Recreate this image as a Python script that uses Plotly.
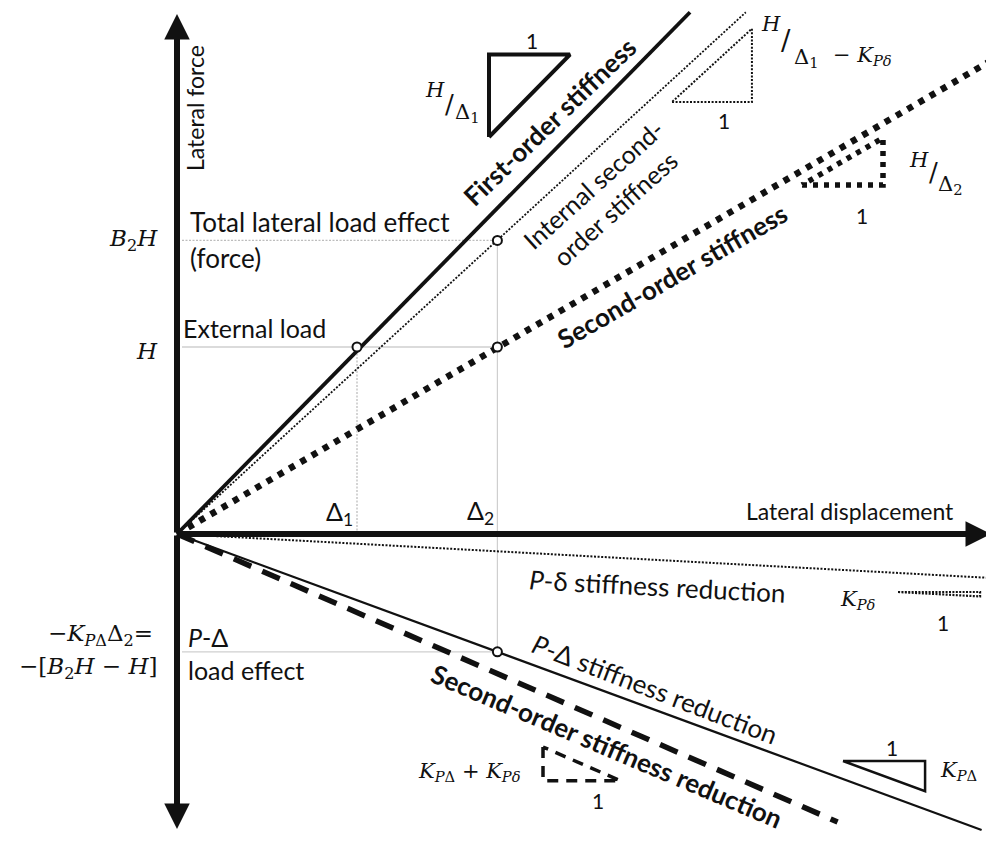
import plotly.graph_objects as go

# ---------------- data (units: Δ1 = 1, H = 1) ----------------
delta1 = 1.0
delta2 = 1.78
H = 1.0
B2H = 1.57
pdelta_load = -0.63          # -K_PΔ·Δ2

first_order_x = [0, 2.85]
first_order_y = [0, 2.79]
internal_x = [0, 3.16]
internal_y = [0, 2.79]
second_x = [0, 4.52]
second_y = [0, 2.53]
p_small_x = [0, 4.52]
p_small_y = [0, -0.235]
p_big_x = [0, 4.47]
p_big_y = [0, -1.583]
second_red_x = [0, 3.67]
second_red_y = [0, -1.54]

point_x = [delta1, delta2, delta2, delta2]
point_y = [H, B2H, H, pdelta_load]

# ---------------- helpers ----------------
X0, SX = 177.0, 180.0
Y0, SY = 534.0, 187.0
PAGE_MARGIN = 8  # default body margin of the page


def px(p):
    return (p - X0) / SX


def py(p):
    return (Y0 - p) / SY


def slope(xs, ys):
    return ys[1] / xs[1]


SANS = "Lato, 'Open Sans', sans-serif"
SERIF = "'DejaVu Serif', 'Liberation Serif', serif"
BLACK = "#111111"
GRAY = "#bdbdbd"

fig = go.Figure()


def line(xs, ys, width, dash="solid", color=BLACK):
    fig.add_trace(go.Scatter(x=xs, y=ys, mode="lines",
                             line=dict(color=color, width=width, dash=dash),
                             hoverinfo="skip", showlegend=False))


# guides
line([px(182), delta2], [B2H, B2H], 1.3, "2px,1.5px", GRAY)
line([px(182), delta2], [H, H], 1.3, "solid", "#cfcfcf")
line([delta1, delta1], [0, H], 1.3, "2px,1.5px", GRAY)
line([delta2, delta2], [pdelta_load, B2H], 1.2, "solid", "#cfcfcf")
line([px(182), delta2], [pdelta_load, pdelta_load], 1.2, "solid", "#cfcfcf")

# main lines
line(first_order_x, first_order_y, 3.8)
line(internal_x, internal_y, 1.8, "2px,1.6px")
line(second_x, second_y, 6.5, "6px,7px")
line(p_small_x, p_small_y, 2.0, "2px,1.6px")
line(p_big_x, p_big_y, 2.2)
line(second_red_x, second_red_y, 5.5, "19px,12px")

# slope triangles


def triangle(x0, y0, run, k, kind, width, dash="solid"):
    rise = run * abs(k)
    if kind == "up_left":
        xs = [x0, x0, x0 + run, x0]
        ys = [y0, y0 + rise, y0 + rise, y0]
    elif kind == "up_right":
        xs = [x0, x0 + run, x0 + run, x0]
        ys = [y0, y0, y0 + rise, y0]
    elif kind == "down_left":
        xs = [x0, x0, x0 + run, x0]
        ys = [y0, y0 - rise, y0 - rise, y0]
    else:  # down_right
        xs = [x0, x0 + run, x0 + run, x0]
        ys = [y0, y0, y0 - rise, y0]
    line(xs, ys, width, dash)


triangle(px(489), py(137), 0.45, slope(first_order_x, first_order_y), "up_left", 4)
triangle(px(672), py(102), 0.444, slope(internal_x, internal_y), "up_right", 2, "2px,1.6px")
triangle(px(802), py(185), 0.45, slope(second_x, second_y), "up_right", 5.5, "5px,6px")
triangle(px(543), py(747), 0.43, slope(second_red_x, second_red_y), "down_left", 3.5, "11px,8px")
triangle(px(843), py(761), 0.456, slope(p_big_x, p_big_y), "down_right", 2.5)
triangle(px(898), py(592), 0.456, slope(p_small_x, p_small_y), "down_right", 2.2, "2px,1.4px")

# points
fig.add_trace(go.Scatter(x=point_x, y=point_y, mode="markers",
                         marker=dict(symbol="circle", size=9, color="white",
                                     line=dict(color=BLACK, width=2)),
                         hoverinfo="skip", showlegend=False))

# axes arrows
arrow_kw = dict(xref="x", yref="y", axref="x", ayref="y", text="", showarrow=True,
                arrowhead=2, arrowsize=0.85, arrowwidth=6, arrowcolor=BLACK, standoff=0)
fig.add_annotation(x=0, y=py(14), ax=0, ay=0, **arrow_kw)
fig.add_annotation(x=0, y=py(829), ax=0, ay=0, **arrow_kw)
fig.add_annotation(x=px(991), y=0, ax=0, ay=0, **arrow_kw)


def txt(x, y, s, size=20, family=SANS, angle=0, xanchor="center", bold=False):
    if bold:
        s = "<b>" + s + "</b>"
    fig.add_annotation(x=x, y=y, text=s, showarrow=False, textangle=angle,
                       xanchor=xanchor, yanchor="middle",
                       font=dict(family=family, size=size, color=BLACK))


# axis titles
txt(px(195), py(108), "Lateral force", 23, angle=-90)
txt(px(850), py(511), "Lateral displacement", 23)

# left labels
txt(px(188), py(222), "Total lateral load effect", 26, xanchor="left")
txt(px(188), py(258), "(force)", 26, xanchor="left")
txt(px(181), py(328), "External load", 25, xanchor="left")
txt(px(186), py(637), "<i>P</i>-Δ", 25, xanchor="left")
txt(px(186), py(670), "load effect", 25, xanchor="left")

txt(px(160), B2H, "<i>B</i><sub>2</sub><i>H</i>", 23, SERIF, xanchor="right")
txt(px(160), H - 0.02, "<i>H</i>", 23, SERIF, xanchor="right")
txt(px(155), py(635), "−<i>K</i><sub><i>P</i>Δ</sub>Δ<sub>2</sub>=", 23, SERIF, xanchor="right")
txt(px(159), py(668), "−[<i>B</i><sub>2</sub><i>H</i> − <i>H</i>]", 23, SERIF, xanchor="right")

txt(delta1 - 0.01, py(513), "Δ<sub>1</sub>", 25, xanchor="right")
txt(delta2 - 0.01, py(512), "Δ<sub>2</sub>", 25, xanchor="right")

# line labels
txt(px(549), py(122), "First-order stiffness", 26, angle=-44, bold=True)
txt(px(604), py(196), "Internal second-<br>order stiffness", 25, angle=-42)
txt(px(672), py(276), "Second-order stiffness", 26, angle=-30, bold=True)
txt(px(657), py(586), "<i>P</i>-δ stiffness reduction", 26, angle=3)
txt(px(655), py(689), "<i>P</i>-Δ stiffness reduction", 26, angle=21)
txt(px(607), py(746), "Second-order stiffness reduction", 26, angle=23, bold=True)

# triangle labels
for (xx, yy) in [(532, 40), (724, 120), (862, 215), (598, 800), (892, 747), (943, 622)]:
    txt(px(xx), py(yy), "1", 21)

# H/Δ1
txt(px(435), py(90), "<i>H</i>", 21, SERIF)
txt(px(449), py(104), "/", 26, SERIF)
txt(px(467), py(113), "Δ<sub>1</sub>", 21, SERIF)
# H/Δ1 − K_Pδ
txt(px(771), py(24), "<i>H</i>", 21, SERIF)
txt(px(786), py(40), "/", 28, SERIF)
txt(px(806), py(58), "Δ<sub>1</sub>", 21, SERIF)
txt(px(862), py(56), "− <i>K</i><sub><i>Pδ</i></sub>", 21, SERIF)
# H/Δ2
txt(px(919), py(160), "<i>H</i>", 21, SERIF)
txt(px(933), py(172), "/", 26, SERIF)
txt(px(950), py(185), "Δ<sub>2</sub>", 21, SERIF)
# K labels
txt(px(858), py(600), "<i>K</i><sub><i>Pδ</i></sub>", 21, SERIF)
txt(px(469), py(772), "<i>K</i><sub><i>P</i>Δ</sub> + <i>K</i><sub><i>Pδ</i></sub>", 21, SERIF)
txt(px(958), py(771), "<i>K</i><sub><i>P</i>Δ</sub>", 21, SERIF)

W, Hh = 994 - PAGE_MARGIN, 850 - PAGE_MARGIN
fig.update_layout(
    width=W, height=Hh,
    margin=dict(l=0, r=0, t=0, b=0),
    paper_bgcolor="white", plot_bgcolor="white",
    xaxis=dict(range=[px(PAGE_MARGIN), px(994)], visible=False, fixedrange=True),
    yaxis=dict(range=[py(850), py(PAGE_MARGIN)], visible=False, fixedrange=True),
    showlegend=False,
)

fig.write_html("out.html")
